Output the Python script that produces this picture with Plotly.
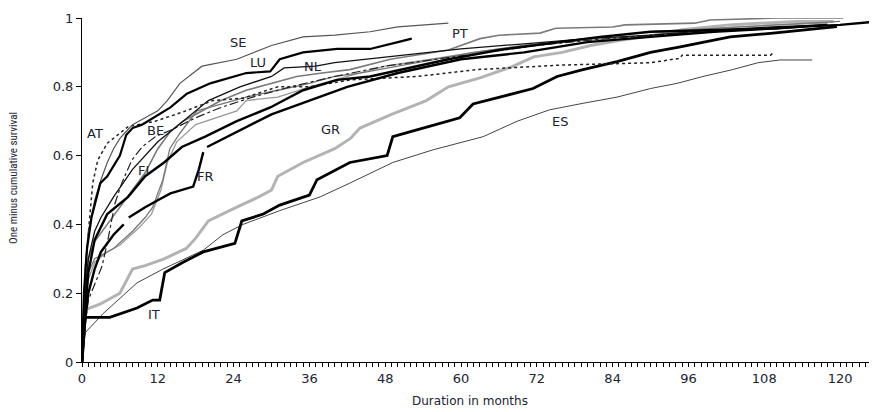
import plotly.graph_objects as go

# ---- data (months, one minus cumulative survival) ----
SE_m = [0, 0.5, 1, 2, 3, 4, 5, 6, 7, 8, 10, 12, 13.5, 15.5, 19, 24.5, 30, 35, 40, 45.6, 50, 54, 58]
SE_v = [0, 0.28, 0.38, 0.47, 0.53, 0.58, 0.62, 0.65, 0.67, 0.69, 0.71, 0.73, 0.76, 0.81, 0.86, 0.88, 0.92, 0.945, 0.95, 0.96, 0.974, 0.98, 0.985]

LU_m = [0, 0.3, 0.8, 1.5, 2.9, 4, 5, 6, 7, 8, 9.5, 12.3, 14, 16.6, 20.3, 26, 29.8, 31.3, 35, 40.4, 45.6, 50, 52.2]
LU_v = [0, 0.2, 0.33, 0.42, 0.52, 0.54, 0.57, 0.6, 0.66, 0.68, 0.69, 0.72, 0.74, 0.78, 0.81, 0.84, 0.845, 0.88, 0.9, 0.91, 0.91, 0.93, 0.94]

AT_m = [0, 0.3, 0.6, 1, 1.7, 2.5, 4, 7.3, 11.6, 16, 20.7, 25.5, 31, 36, 42.4, 53, 62.5, 75.7, 90, 94.7, 95, 109, 109.5]
AT_v = [0, 0.15, 0.28, 0.375, 0.52, 0.587, 0.636, 0.684, 0.70, 0.727, 0.76, 0.767, 0.80, 0.80, 0.82, 0.83, 0.85, 0.863, 0.87, 0.883, 0.892, 0.892, 0.90]

GR_m = [0, 0.3, 3, 6, 8, 10, 13, 16.5, 18, 20, 24.5, 28, 30, 31, 35, 40, 42.5, 44, 49, 54.5, 58, 63, 68, 71.5, 76, 80.5, 85.5, 90.5, 95, 102.5, 113, 119]
GR_v = [0, 0.15, 0.17, 0.2, 0.27, 0.28, 0.3, 0.33, 0.36, 0.41, 0.45, 0.48, 0.5, 0.54, 0.58, 0.62, 0.65, 0.68, 0.72, 0.76, 0.8, 0.826, 0.858, 0.887, 0.9, 0.92, 0.936, 0.95, 0.966, 0.98, 0.99, 0.99]

IT_m = [0, 0.5, 4.4, 6, 8.7, 11.2, 12.3, 13.1, 16, 19.2, 23, 24.2, 25.3, 28.7, 31.3, 36, 37.2, 42.4, 48.3, 49.2, 53, 59.8, 61.9, 66.2, 71.4, 75.2, 79.3, 84.7, 90, 94.7, 102.6, 109.4, 113.7, 119.5]
IT_v = [0, 0.13, 0.13, 0.14, 0.157, 0.18, 0.18, 0.26, 0.29, 0.32, 0.34, 0.345, 0.41, 0.43, 0.456, 0.485, 0.53, 0.58, 0.60, 0.655, 0.675, 0.71, 0.75, 0.77, 0.795, 0.83, 0.85, 0.873, 0.9, 0.916, 0.945, 0.956, 0.965, 0.975]

ES_m = [0, 0.5, 3.3, 8.7, 12.8, 19.2, 22.3, 25.5, 31.3, 37.7, 42.4, 49.2, 55.6, 63.5, 68.9, 74, 79.3, 84.7, 90, 94.2, 98.3, 103, 107, 110.5, 115.6]
ES_v = [0, 0.085, 0.14, 0.23, 0.27, 0.325, 0.37, 0.40, 0.44, 0.48, 0.52, 0.58, 0.617, 0.655, 0.70, 0.733, 0.752, 0.77, 0.795, 0.81, 0.83, 0.85, 0.87, 0.878, 0.878]

PT_m = [0, 0.5, 1, 2, 4, 6, 8, 10, 12, 14, 16, 18, 22, 26, 30, 34, 38, 42.4, 48.8, 58, 63, 66, 72.5, 75, 84, 86, 97, 99.4, 110, 120.5]
PT_v = [0, 0.2, 0.3, 0.35, 0.4, 0.45, 0.5, 0.55, 0.62, 0.67, 0.7, 0.72, 0.76, 0.79, 0.81, 0.83, 0.84, 0.85, 0.88, 0.907, 0.94, 0.95, 0.956, 0.97, 0.974, 0.98, 0.985, 0.994, 1.0, 1.0]

FI_m = [0, 0.5, 1, 2, 4, 7.3, 10, 13, 15.8, 19.5, 24.5, 29.8, 35, 40.4, 45.6, 53, 58, 66, 74, 82, 90, 100, 110, 114, 120, 126]
FI_v = [0, 0.15, 0.26, 0.355, 0.43, 0.48, 0.54, 0.58, 0.625, 0.655, 0.70, 0.74, 0.79, 0.82, 0.83, 0.86, 0.88, 0.907, 0.927, 0.945, 0.96, 0.965, 0.97, 0.975, 0.98, 0.99]

FR_m = [0, 0.5, 1, 2, 3, 5, 6.6, 7.0, 7.4, 10, 12, 14, 17.6, 18.5, 19.2, 19.5, 19.8, 23, 30, 36, 42, 50, 60, 70, 80, 90, 100, 110, 118]
FR_v = [0, 0.12, 0.2, 0.27, 0.32, 0.37, 0.40, None, 0.42, 0.45, 0.47, 0.49, 0.51, 0.56, 0.61, None, 0.625, 0.655, 0.72, 0.76, 0.80, 0.84, 0.88, 0.90, 0.93, 0.945, 0.96, 0.97, 0.98]

BE_m = [0, 0.3, 1, 3.2, 4.1, 5.2, 6.3, 7.9, 9.5, 11.6, 14.2, 18, 22, 27, 33, 40, 48, 56, 64, 72, 80, 90, 100, 110, 118]
BE_v = [0, 0.08, 0.18, 0.28, 0.355, 0.46, 0.52, 0.587, 0.625, 0.655, 0.675, 0.71, 0.74, 0.77, 0.80, 0.83, 0.86, 0.88, 0.90, 0.92, 0.935, 0.95, 0.96, 0.97, 0.98]

NL_m = [0, 0.5, 1, 2, 3, 5, 8, 12, 16, 20, 25, 30, 32, 37, 40, 45, 52, 60, 70, 80, 90, 100, 110, 118]
NL_v = [0, 0.2, 0.3, 0.38, 0.42, 0.48, 0.56, 0.64, 0.70, 0.76, 0.80, 0.83, 0.855, 0.86, 0.87, 0.88, 0.895, 0.91, 0.925, 0.94, 0.95, 0.965, 0.975, 0.98]

DK_m = [0, 0.5, 1, 2, 3, 5, 8, 10, 11.2, 12.8, 13.9, 15.5, 18.2, 22, 26, 31, 36, 40, 44, 50, 56, 62, 70, 80, 90, 100, 110, 120]
DK_v = [0, 0.18, 0.26, 0.3, 0.31, 0.33, 0.38, 0.42, 0.45, 0.53, 0.62, 0.665, 0.73, 0.75, 0.77, 0.79, 0.81, 0.83, 0.84, 0.86, 0.88, 0.90, 0.92, 0.94, 0.96, 0.97, 0.98, 0.99]

UK_m = [0, 0.5, 1, 2, 4, 6, 9, 11, 12.5, 13.5, 15, 18, 24.5, 26, 31, 36, 42, 48, 55, 62, 70, 80, 90, 100, 110, 118]
UK_v = [0, 0.15, 0.24, 0.29, 0.32, 0.34, 0.39, 0.43, 0.5, 0.58, 0.64, 0.69, 0.73, 0.76, 0.77, 0.8, 0.83, 0.86, 0.88, 0.9, 0.92, 0.935, 0.95, 0.97, 0.98, 0.985]

# label names and positions (months, value)
label_names = ["SE", "LU", "NL", "PT", "AT", "BE", "GR", "ES", "FI", "FR", "IT"]
label_m = [24.7, 27.9, 36.6, 59.8, 2.1, 11.6, 39.3, 75.7, 9.7, 19.5, 11.4]
label_v = [0.93, 0.872, 0.86, 0.956, 0.663, 0.674, 0.677, 0.70, 0.558, 0.538, 0.137]

x_ticks = [0, 12, 24, 36, 48, 60, 72, 84, 96, 108, 120]
y_ticks = [0, 0.2, 0.4, 0.6, 0.8, 1]
y_ticktext = ["0", "0.2", "0.4", "0.6", "0.8", "1"]

series = [
    ("ES", ES_m, ES_v, dict(color="#444444", width=1.0)),
    ("GR", GR_m, GR_v, dict(color="#b3b3b3", width=3.0)),
    ("IT", IT_m, IT_v, dict(color="#000000", width=2.8)),
    ("UK", UK_m, UK_v, dict(color="#999999", width=1.3)),
    ("DK", DK_m, DK_v, dict(color="#777777", width=1.3)),
    ("PT", PT_m, PT_v, dict(color="#7a7a7a", width=1.6)),
    ("BE", BE_m, BE_v, dict(color="#222222", width=1.2, dash="dashdot")),
    ("NL", NL_m, NL_v, dict(color="#111111", width=1.3)),
    ("AT", AT_m, AT_v, dict(color="#222222", width=1.5, dash="dot")),
    ("FR", FR_m, FR_v, dict(color="#000000", width=2.4)),
    ("FI", FI_m, FI_v, dict(color="#000000", width=2.4)),
    ("SE", SE_m, SE_v, dict(color="#555555", width=1.2)),
    ("LU", LU_m, LU_v, dict(color="#000000", width=2.2)),
]

fig = go.Figure()
for name, m, v, ln in series:
    fig.add_trace(go.Scatter(x=m, y=v, mode="lines", name=name, line=ln,
                             connectgaps=False, showlegend=False, hoverinfo="skip"))

for t, mx, vy in zip(label_names, label_m, label_v):
    fig.add_annotation(x=mx, y=vy, text=t, showarrow=False,
                       font=dict(family="DejaVu Sans", size=13, color="#222233"))

# axis titles placed as annotations, matching the source positions
fig.add_annotation(xref="paper", yref="paper", x=0.488, y=0, yshift=-48,
                   text="Duration in months", showarrow=False,
                   font=dict(family="DejaVu Sans", size=12, color="#222233"))
fig.add_annotation(xref="paper", yref="paper", x=0, xshift=-68, y=0.535,
                   xanchor="center", yanchor="middle",
                   text="One minus cumulative survival", showarrow=False, textangle=-90,
                   font=dict(family="Liberation Sans Narrow, Roboto Condensed, Liberation Sans", size=11, color="#222233"))

# the page body has an 8px margin; compensate so the plot area lands where the source has it
fig.update_layout(
    width=869, height=404,
    margin=dict(l=74, r=0, t=10, b=50, autoexpand=False),
    paper_bgcolor="white", plot_bgcolor="white",
    font=dict(family="DejaVu Sans", size=13, color="#222233"),
)
fig.update_xaxes(
    range=[0, 125.85], tickvals=x_ticks, ticks="outside", ticklen=4, tickwidth=1,
    tickcolor="black", showline=True, linecolor="black", linewidth=1,
    showgrid=False, zeroline=False,
    minor=dict(dtick=1, tick0=0, ticks="outside", ticklen=4, tickcolor="black", tickwidth=1, showgrid=False),
    tickfont=dict(family="DejaVu Sans", size=13, color="#222233"),
)
fig.update_yaxes(
    range=[0, 1], tickvals=y_ticks, ticktext=y_ticktext,
    ticks="outside", ticklen=5, tickwidth=1, tickcolor="black",
    showline=True, linecolor="black", linewidth=1, showgrid=False, zeroline=False,
    tickfont=dict(family="DejaVu Sans", size=13, color="#222233"),
)

fig.write_html("out.html")
